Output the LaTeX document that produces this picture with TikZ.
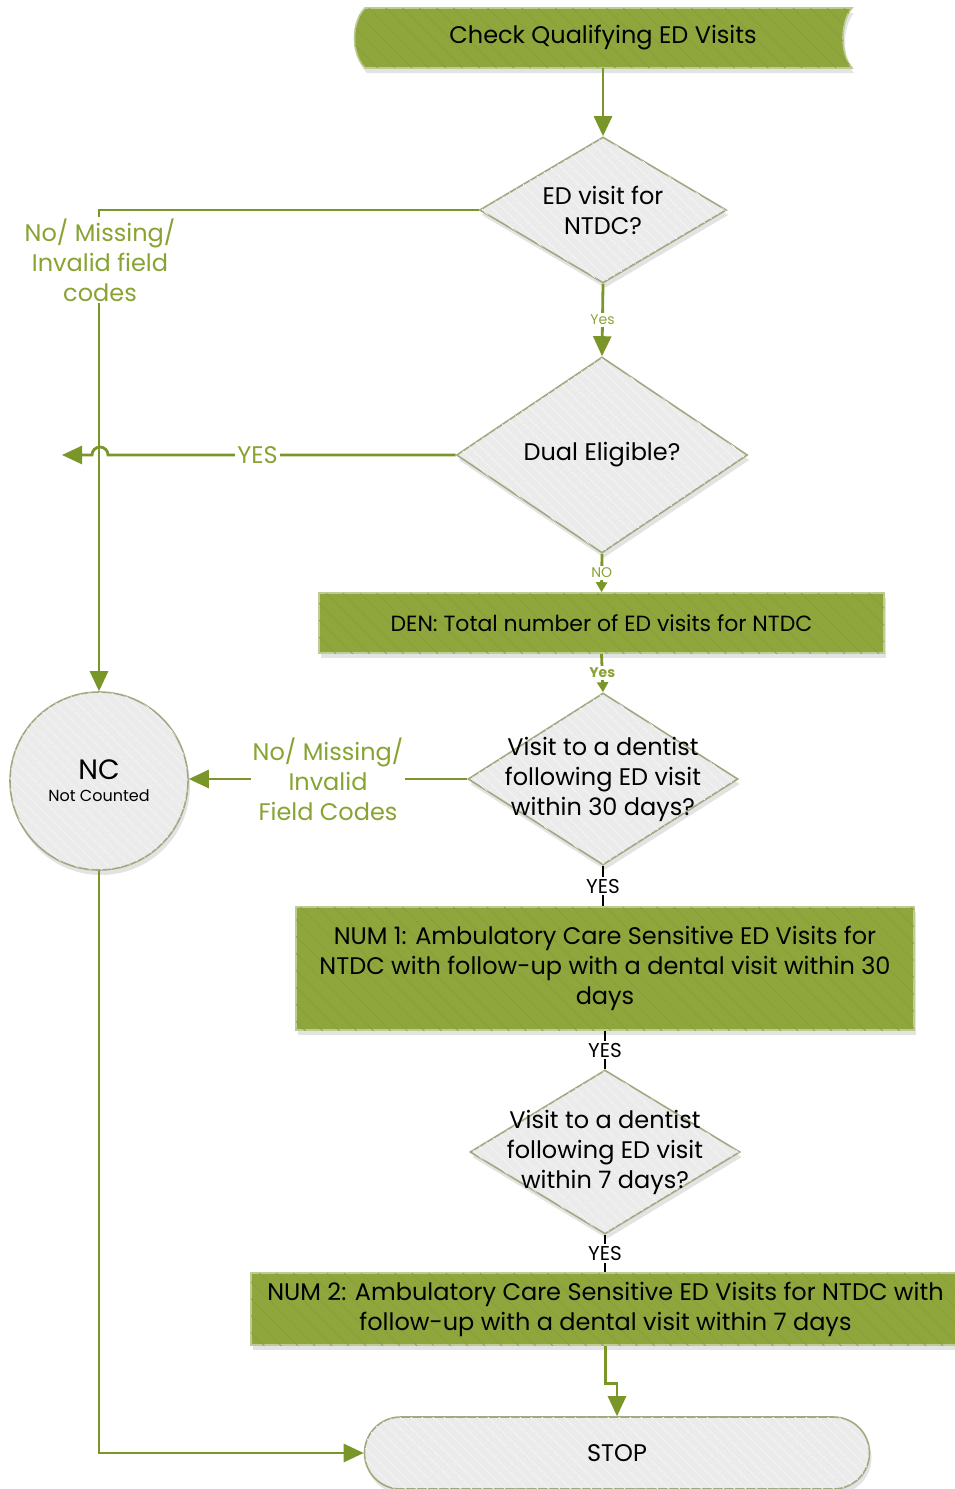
\documentclass[tikz,border=0pt]{standalone}
\usepackage{fontspec}
\setmainfont{Poppins}
\usepackage{tikz}
\usetikzlibrary{arrows.meta,shapes.geometric,shadows,patterns.meta}
\usepackage{xcolor}
\definecolor{olive-fill}{RGB}{143,166,61}
\definecolor{olive-stripe}{RGB}{136,159,57}
\definecolor{olive-edge}{RGB}{188,204,148}
\definecolor{olive-line}{RGB}{122,150,40}
\definecolor{olive-text}{RGB}{136,163,50}
\definecolor{grey-fill}{RGB}{235,235,235}
\definecolor{grey-stripe}{RGB}{244,244,244}
\definecolor{grey-edge}{RGB}{160,170,128}
\newcommand{\bigtext}{\fontsize{12}{15}\selectfont}
\tikzstyle{shade-drop}=[drop shadow={opacity=0.22,shadow xshift=1pt,shadow yshift=-2.5pt}]
\tikzstyle{greenbox}=[rectangle, draw=olive-edge, line width=0.8pt, fill=olive-fill, shade-drop, postaction={pattern={Lines[angle=-45,distance=6pt,line width=0.35pt]}, pattern color=olive-stripe}, inner sep=0pt, align=center, font=\bigtext]
\tikzstyle{greybox}=[draw=grey-edge, line width=0.8pt, fill=grey-fill, shade-drop, postaction={pattern={Lines[angle=-45,distance=4pt,line width=0.6pt]}, pattern color=grey-stripe}]
\tikzstyle{decision}=[diamond, greybox, inner sep=0pt]
\tikzstyle{plaintext}=[align=center, inner sep=0pt, font=\bigtext]
\tikzstyle{flow}=[draw=olive-line, line width=1.4pt, -{Triangle[length=10pt,width=9pt]}]
\tikzstyle{flowsmall}=[draw=olive-line, line width=1.4pt, -{Triangle[length=5pt,width=5.5pt]}]
\tikzstyle{blackflow}=[draw=black, line width=0.8pt]
\tikzstyle{greenlabel}=[text=olive-text, fill=white, font=\bigtext, align=center, inner sep=1pt]
\tikzstyle{tinylabel}=[text=olive-text, fill=white, font=\fontsize{7}{8}\selectfont, inner sep=1pt]
\tikzstyle{blacklabel}=[text=black, fill=white, font=\fontsize{10}{11}\selectfont, inner sep=1pt]
\newcommand{\decideNbox}[5]{
	\node[decision, minimum width=#3, minimum height=#4] (#1) at #2 {};
	\node[plaintext] (#1-text) at (#1) {#5};
}

\begin{document}
\begin{tikzpicture}[x=0.5pt,y=-0.5pt]
	\useasboundingbox (0,0) rectangle (954,1489);
	% start banner
	\draw[greenbox] (365,8) -- (852,8) .. controls (840,22) and (840,54) .. (852,68) -- (365,68) .. controls (351,54) and (351,22) .. (365,8) -- cycle;
	\node[plaintext, minimum height=30pt] (start) at (603,38) {Check Qualifying ED Visits};
	% decisions and boxes
	\decideNbox{visit}{(603,210)}{123.5pt}{73pt}{ED visit for\\NTDC?}
	\decideNbox{dual}{(602,455)}{145.5pt}{98pt}{Dual Eligible?}
	\node[greenbox, minimum width=282.5pt, minimum height=30pt, font=\fontsize{11}{14}\selectfont] (den) at (601.5,623) {DEN: Total number of ED visits for NTDC};
	\decideNbox{visit30}{(603,779)}{135pt}{86pt}{Visit to a dentist\\following ED visit\\within 30 days?}
	\node[greenbox, minimum width=309pt, minimum height=61.5pt] (num1) at (605,968.5) {NUM 1: Ambulatory Care Sensitive ED Visits for\\NTDC with follow-up with a dental visit within 30\\days};
	\decideNbox{visit7}{(605,1152)}{135pt}{82pt}{Visit to a dentist\\following ED visit\\within 7 days?}
	\node[greenbox, minimum width=354.5pt, minimum height=36pt] (num2) at (605.5,1309) {NUM 2: Ambulatory Care Sensitive ED Visits for NTDC with\\follow-up with a dental visit within 7 days};
	\node[circle, greybox, minimum size=89pt, inner sep=0pt, align=center] (nc) at (99,781) {{\fontsize{14}{16}\selectfont NC}\\[-1pt]{\fontsize{8}{10}\selectfont Not Counted}};
	\node[greybox, rounded corners=18pt, minimum width=252.5pt, minimum height=36pt, font=\bigtext] (stop) at (617,1453) {STOP};
	% connectors
	\draw[flow] (start.south) -- (visit.north);
	\draw[flow] (visit.south) -- node[tinylabel]{Yes} (dual.north);
	\draw[flow] (visit.west) -| (nc.north);
	\node[greenlabel] (nolabel) at (100,260) {No/ Missing/\\Invalid field\\codes};
	\coordinate (dualout) at (62,455);
	\draw[flow] (dual.west) -- node[greenlabel, pos=0.57]{YES} (108,455) arc[start angle=0, end angle=180, radius=4pt] -- (dualout);
	\draw[flowsmall] (dual.south) -- node[tinylabel]{NO} (den.north);
	\draw[flowsmall] (den.south) -- node[tinylabel, font=\fontsize{7}{8}\selectfont\bfseries]{Yes} (visit30.north);
	\draw[flow] (visit30.west) -- node[greenlabel]{No/ Missing/\\Invalid\\Field Codes} (nc.east |- visit30.west);
	\draw[blackflow] (visit30.south) -- node[blacklabel]{YES} (visit30.south |- num1.north);
	\draw[blackflow] (num1.south) -- node[blacklabel]{YES} (visit7.north);
	\draw[blackflow] (visit7.south) -- node[blacklabel]{YES} (visit7.south |- num2.north);
	\draw[flow] (num2.south) -- ++(0,38) -| (stop.north);
	\draw[flow] (nc.south) |- (stop.west);
\end{tikzpicture}
\end{document}
